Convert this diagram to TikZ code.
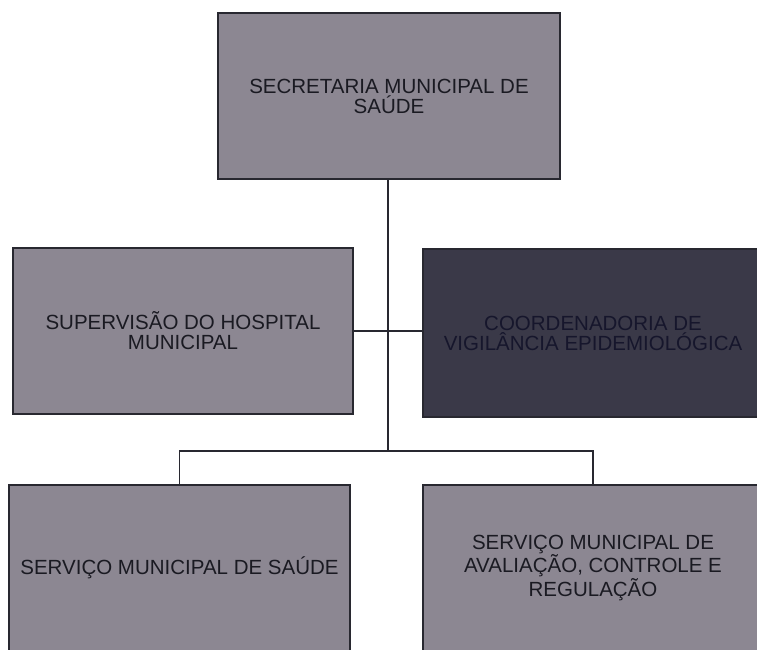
\documentclass[tikz,border=0pt]{standalone}
\usepackage{fontspec}
\setmainfont{Liberation Sans}
\definecolor{boxgray}{RGB}{140,135,146}
\definecolor{boxdark}{RGB}{58,57,72}
\definecolor{edgecol}{RGB}{40,40,48}
\definecolor{txtcol}{RGB}{26,26,34}
\definecolor{txtdark}{RGB}{22,22,44}
\begin{document}
\begin{tikzpicture}[x=1pt,y=-1pt,
  orgbox/.style={draw=edgecol, line width=1.6pt, fill=boxgray, rectangle,
    minimum width=340pt, minimum height=166pt, inner sep=0pt,
    align=center, text=txtcol, font=\fontsize{20.5}{20}\selectfont},
  darkbox/.style={orgbox, fill=boxdark, text=txtdark},
  link/.style={draw=edgecol, line width=1.4pt}]
\useasboundingbox (0,0) rectangle (757,649);
\clip (0,0) rectangle (757,649);
\node[orgbox, minimum width=342pt] (top) at (389,96) {SECRETARIA MUNICIPAL DE\\SAÚDE};
\node[orgbox] (ml) at (183,331) {SUPERVISÃO DO HOSPITAL\\MUNICIPAL};
\node[darkbox, minimum height=168pt] (mr) at (593,333) {COORDENADORIA DE\\VIGILÂNCIA EPIDEMIOLÓGICA};
\node[orgbox, minimum width=341pt] (bl) at (179.5,568) {SERVIÇO MUNICIPAL DE SAÚDE};
\node[orgbox] (br) at (593,568) {SERVIÇO MUNICIPAL DE\\AVALIAÇÃO, CONTROLE E\\REGULAÇÃO};
\coordinate (bus) at (388,451);
\coordinate (tj) at (388,179);
\draw[link] (tj) -- (bus);
\draw[link] (ml.east) -- (ml.east -| mr.west);
\draw[link] (bl.north) |- (bus) -| (br.north);
\end{tikzpicture}
\end{document}
